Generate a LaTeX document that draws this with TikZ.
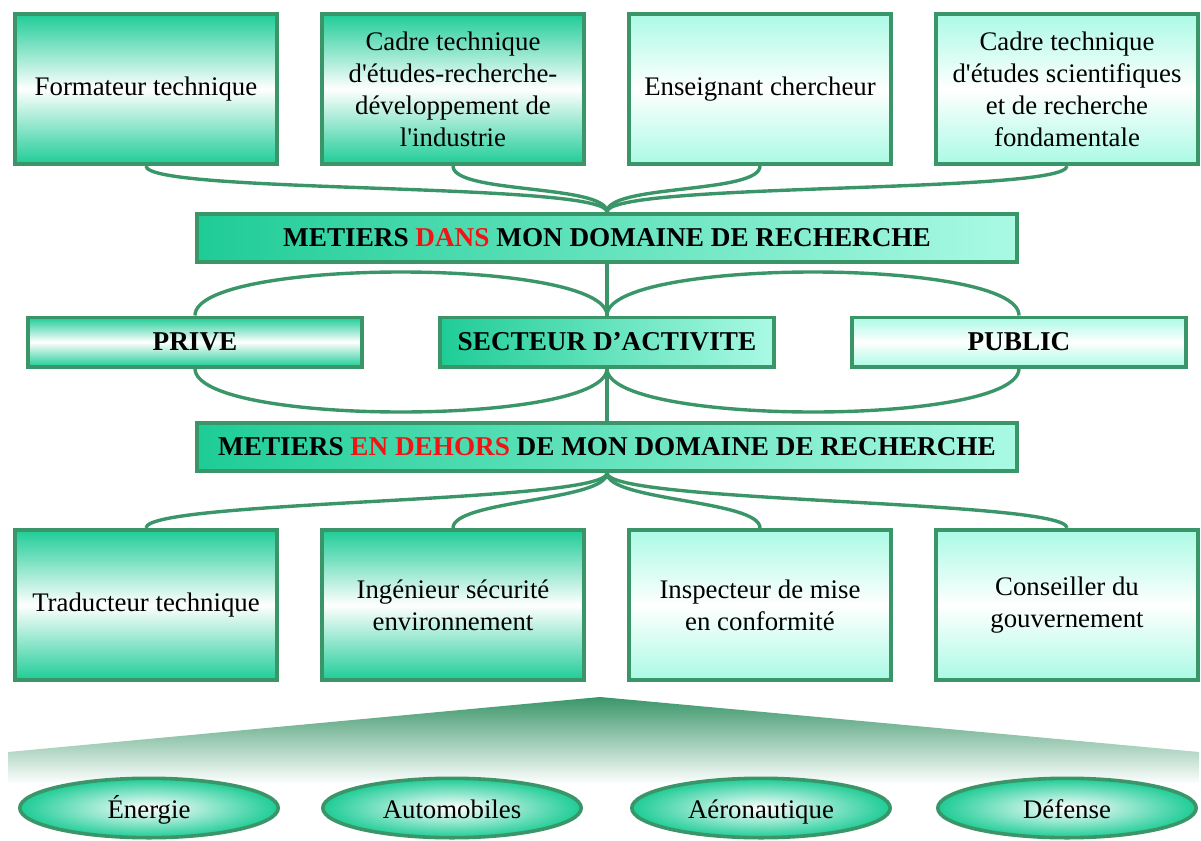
\documentclass[tikz,border=0pt]{standalone}
\usepackage{fontspec}
\setmainfont{Liberation Serif}
\usetikzlibrary{shapes.geometric}
\definecolor{edgegreen}{RGB}{58,150,105}
\definecolor{deepteal}{RGB}{30,204,150}
\definecolor{paleteal}{RGB}{170,250,228}
\definecolor{wordred}{RGB}{240,20,20}
\newcommand{\jobfont}{\fontsize{13.4}{16}\selectfont}
\tikzset{
  jobD/.style={draw=edgegreen, line width=1.8pt,
               top color=deepteal, bottom color=deepteal, middle color=white,
               minimum width=131.2pt, minimum height=75.2pt, inner sep=2pt,
               align=center, font=\jobfont},
  jobP/.style={draw=edgegreen, line width=1.8pt,
               top color=paleteal, bottom color=paleteal, middle color=white,
               minimum width=131.2pt, minimum height=75.2pt, inner sep=2pt,
               align=center, font=\jobfont},
  barH/.style={draw=edgegreen, line width=1.8pt,
               left color=deepteal, right color=paleteal,
               minimum width=410.2pt, minimum height=24.2pt, inner sep=1pt,
               font=\fontsize{13.6}{16}\selectfont\bfseries},
  secD/.style={draw=edgegreen, line width=1.8pt,
               top color=deepteal, bottom color=deepteal, middle color=white,
               minimum width=167.2pt, minimum height=24.7pt, inner sep=1pt,
               font=\fontsize{13.6}{16}\selectfont\bfseries},
  secP/.style={draw=edgegreen, line width=1.8pt,
               top color=paleteal, bottom color=paleteal, middle color=white,
               minimum width=167.2pt, minimum height=24.7pt, inner sep=1pt,
               font=\fontsize{13.6}{16}\selectfont\bfseries},
  secH/.style={draw=edgegreen, line width=1.8pt,
               left color=deepteal, right color=paleteal,
               minimum width=167.2pt, minimum height=24.7pt, inner sep=1pt,
               font=\fontsize{13.6}{16}\selectfont\bfseries},
  fld/.style ={ellipse, draw=edgegreen, line width=1.8pt,
               inner color=white, outer color=deepteal,
               minimum width=129.2pt, minimum height=29.7pt, inner sep=0pt,
               text height=13pt, text depth=3pt, font=\jobfont},
  lnk/.style ={edgegreen, line width=1.7pt},
}

\begin{document}
\begin{tikzpicture}[x=0.5pt, y=-0.5pt]
    \useasboundingbox (0,0) rectangle (1201,841);

    % ── METIERS DANS ────────────────────────────────────────
    \node[jobD](f1) at (146,89) {Formateur technique};
    \node[jobD](f2) at (453,89) {Cadre technique\\d\textquotesingle études-recherche-\\développement de\\l\textquotesingle industrie};
    \node[jobP](f3) at (760,89) {Enseignant chercheur};
    \node[jobP](f4) at (1067,89) {Cadre technique\\d\textquotesingle études scientifiques\\et de recherche\\fondamentale};
    \node[barH](dans) at (607,238) {METIERS \textcolor{wordred}{DANS} MON DOMAINE DE RECHERCHE};
    \draw[lnk] (f1.south) .. controls +(0,28) and +(0,-30) .. (dans.north);
    \draw[lnk] (f2.south) .. controls +(0,28) and +(0,-28) .. (dans.north);
    \draw[lnk] (f3.south) .. controls +(0,28) and +(0,-28) .. (dans.north);
    \draw[lnk] (f4.south) .. controls +(0,28) and +(0,-30) .. (dans.north);

    % ── SECTEUR ─────────────────────────────────────────────
    \node[secD](prive)  at (195,342)  {PRIVE};
    \node[secH](sect)   at (607,342)  {SECTEUR D’ACTIVITE};
    \node[secP](public) at (1019,342) {PUBLIC};
    \draw[lnk] (dans.south) -- (sect.north);
    \draw[lnk] (prive.north)  .. controls +(0,-58) and +(0,-58) .. (sect.north);
    \draw[lnk] (public.north) .. controls +(0,-58) and +(0,-58) .. (sect.north);
    \draw[lnk] (prive.south)  .. controls +(0,58) and +(0,58) .. (sect.south);
    \draw[lnk] (public.south) .. controls +(0,58) and +(0,58) .. (sect.south);

    % ── METIERS EN DEHORS ───────────────────────────────────
    \node[barH](dehors) at (607,447) {METIERS \textcolor{wordred}{EN DEHORS} DE MON DOMAINE DE RECHERCHE};
    \draw[lnk] (sect.south) -- (dehors.north);
    \node[jobD](t1) at (146,605) {Traducteur technique};
    \node[jobD](t2) at (453,605) {Ingénieur sécurité\\environnement};
    \node[jobP](t3) at (760,605) {Inspecteur de mise\\en conformité};
    \node[jobP](t4) at (1067,605) {Conseiller du\\gouvernement};
    \draw[lnk] (dehors.south) .. controls +(0,30) and +(0,-28) .. (t1.north);
    \draw[lnk] (dehors.south) .. controls +(0,28) and +(0,-28) .. (t2.north);
    \draw[lnk] (dehors.south) .. controls +(0,28) and +(0,-28) .. (t3.north);
    \draw[lnk] (dehors.south) .. controls +(0,30) and +(0,-28) .. (t4.north);

    % ── DOMAINES ────────────────────────────────────────────
    \shade[top color=edgegreen, bottom color=white]
      (8,752) -- (600,697) -- (1199,752) -- (1199,784) -- (8,784) -- cycle;
    \node[fld](e1) at (149,808)  {Énergie};
    \node[fld](e2) at (452,808)  {Automobiles};
    \node[fld](e3) at (761,808)  {Aéronautique};
    \node[fld](e4) at (1067,808) {Défense};
\end{tikzpicture}
\end{document}
